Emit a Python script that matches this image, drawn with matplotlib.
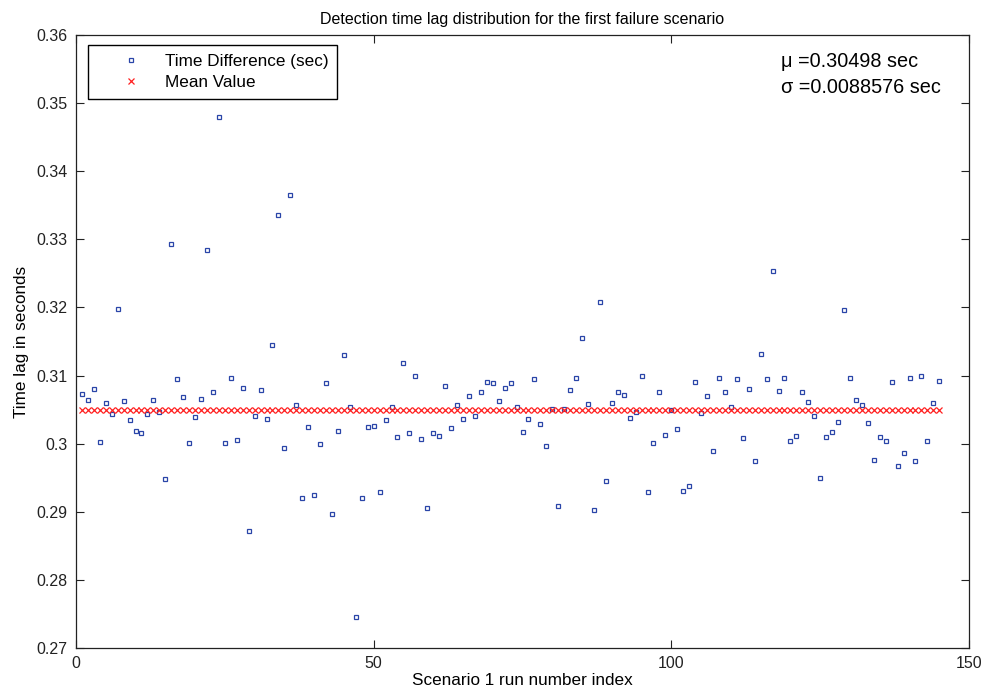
import numpy as np
import matplotlib
matplotlib.use("Agg")
import matplotlib.pyplot as plt

plt.rcParams['font.family'] = ['Liberation Sans', 'DejaVu Sans']

# run index and measured detection time lag (sec)
run_index = np.arange(1, 146)
time_lag = [
    0.30728, 0.30636, 0.30809, 0.30023, 0.30595, 0.30439, 0.31977, 0.30630, 0.30353, 0.30179,
    0.30156, 0.30428, 0.30636, 0.30468, 0.29486, 0.32936, 0.30948, 0.30688, 0.30012, 0.30393,
    0.30659, 0.32838, 0.30757, 0.34798, 0.30006, 0.30960, 0.30058, 0.30815, 0.28723, 0.30410,
    0.30786, 0.30358, 0.31451, 0.33353, 0.29931, 0.33647, 0.30572, 0.29200, 0.30249, 0.29250,
    0.30000, 0.30890, 0.28971, 0.30185, 0.31306, 0.30543, 0.27451, 0.29202, 0.30249, 0.30260,
    0.29290, 0.30353, 0.30532, 0.30104, 0.31179, 0.30162, 0.30988, 0.30064, 0.29058, 0.30162,
    0.30116, 0.30844, 0.30237, 0.30566, 0.30364, 0.30699, 0.30399, 0.30751, 0.30902, 0.30884,
    0.30630, 0.30821, 0.30884, 0.30543, 0.30168, 0.30364, 0.30942, 0.30295, 0.29960, 0.30503,
    0.29081, 0.30509, 0.30792, 0.30971, 0.31549, 0.30578, 0.29029, 0.32075, 0.29457, 0.30601,
    0.30757, 0.30711, 0.30370, 0.30462, 0.30994, 0.29283, 0.30006, 0.30757, 0.30133, 0.30491,
    0.30208, 0.29306, 0.29382, 0.30908, 0.30457, 0.30694, 0.29890, 0.30971, 0.30763, 0.30538,
    0.30948, 0.30087, 0.30798, 0.29746, 0.31318, 0.30942, 0.32532, 0.30780, 0.30960, 0.30040,
    0.30116, 0.30751, 0.30613, 0.30399, 0.29503, 0.30092, 0.30173, 0.30324, 0.31965, 0.30960,
    0.30642, 0.30564, 0.30309, 0.29765, 0.30098, 0.30044, 0.30912, 0.29672, 0.29863, 0.30966,
    0.29740, 0.30995, 0.30039, 0.30598, 0.30922,
]
mean_value = 0.30498
std_value = 0.0088576

x_ticks = [0, 50, 100, 150]
y_ticks = [0.27, 0.28, 0.29, 0.30, 0.31, 0.32, 0.33, 0.34, 0.35, 0.36]

fig = plt.figure(figsize=(9.87, 6.94), dpi=100)
ax = fig.add_axes([0.0770, 0.0663, 0.9048, 0.8833])

ax.plot(run_index, time_lag, 's', color='#2a45a8', markersize=3.0,
        markerfacecolor='none', markeredgewidth=0.9, label='Time Difference (sec)')
ax.plot(run_index, np.full(len(run_index), mean_value), 'x', color='#ff2020',
        markersize=3.8, markeredgewidth=0.9, label='Mean Value')

ax.set_xlim(0, 150)
ax.set_ylim(0.27, 0.36)
ax.set_xticks(x_ticks)
ax.set_yticks(y_ticks)
ax.set_yticklabels(['%g' % v for v in y_ticks])
ax.tick_params(direction='in', top=True, right=True, length=6, width=0.8,
               labelsize=11.5, colors='#222222', pad=6)
for s in ax.spines.values():
    s.set_linewidth(0.9)
    s.set_color('#222222')

ax.set_title('Detection time lag distribution for the first failure scenario',
             fontsize=11.5, pad=8)
ax.set_xlabel('Scenario 1 run number index', fontsize=12.3, labelpad=1)
ax.set_ylabel('Time lag in seconds', fontsize=12.3, labelpad=5)

leg = ax.legend(loc='upper left', bbox_to_anchor=(0.0134, 0.9837), borderaxespad=0,
                fontsize=12.3, numpoints=1, handlelength=4.0, handletextpad=0.0,
                labelspacing=0.4, borderpad=0.5, fancybox=False, framealpha=1,
                edgecolor='black', markerscale=1.0)
leg.get_frame().set_linewidth(1.0)

ax.text(0.7895, 0.9560, '\u03bc =%.5f sec' % mean_value, transform=ax.transAxes,
        fontsize=14.3, va='center', ha='left')
ax.text(0.7895, 0.9150, '\u03c3 =%.7f sec' % std_value, transform=ax.transAxes,
        fontsize=14.3, va='center', ha='left')

fig.savefig('out.png', dpi=100)
